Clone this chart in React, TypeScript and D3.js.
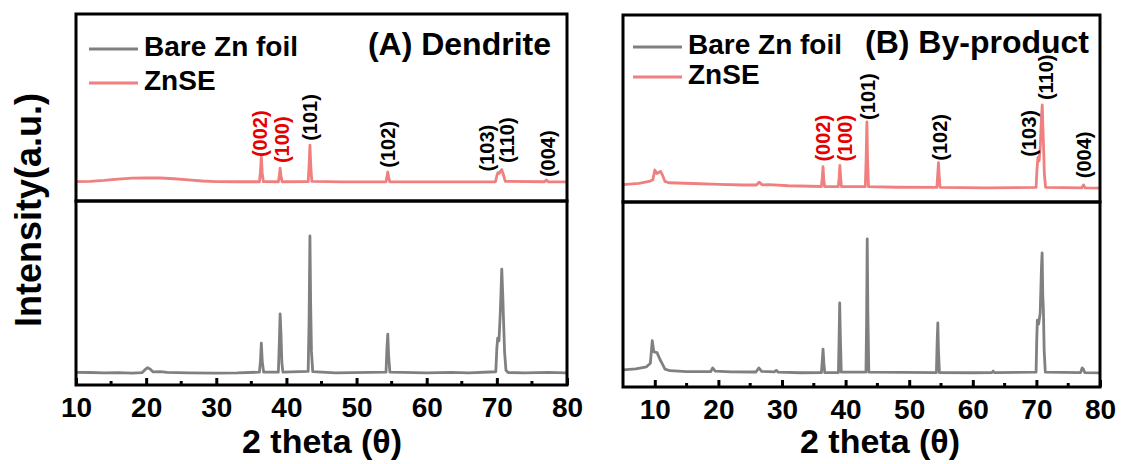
import * as d3 from "d3";
import { useEffect, useRef } from "react";

const W = 1137;
const H = 464;
const FONT = "'Liberation Sans', Arial, Helvetica, sans-serif";
const GRAY = "#808080";
const SALMON = "#F08080";
const RED = "#E60000";

const seriesNames = ["Bare Zn foil", "ZnSE"];
const majorTicks = [10, 20, 30, 40, 50, 60, 70, 80];
const minorTicks = [15, 25, 35, 45, 55, 65, 75];

// [2 theta, intensity (a.u.)]
const dendriteZnSE: [number, number][] = [
    [10, 10.4], [12, 10.5], [14, 11.0], [16, 11.7], [18, 12.2], [20, 12.4], [22, 12.3], [24, 11.9],
    [26, 11.3], [28, 10.7], [30, 10.4], [33, 10.3], [36.15, 10.3], [36.28, 15.0], [36.42, 23.5],
    [36.55, 15.0], [36.7, 10.4], [38.85, 10.3], [38.98, 13.5], [39.1, 17.6], [39.22, 13.5], [39.38, 10.3],
    [43.1, 10.4], [43.23, 19.0], [43.35, 29.9], [43.47, 19.0], [43.62, 10.5], [48, 10.2], [54.2, 10.3],
    [54.33, 13.0], [54.45, 15.5], [54.57, 13.0], [54.72, 10.3], [62, 10.2], [69.8, 10.3], [70.0, 13.5],
    [70.15, 15.2], [70.35, 14.8], [70.55, 16.2], [70.7, 16.8], [70.9, 14.5], [71.2, 10.5], [76.8, 10.3],
    [77.05, 11.3], [77.3, 10.3], [80, 10.2],
];

const dendriteBare: [number, number][] = [
    [10, 6.9], [12, 6.8], [14, 6.6], [16, 6.7], [18, 6.5], [19.4, 6.7], [19.8, 8.2], [20.2, 9.4],
    [20.6, 8.6], [21.0, 7.1], [22, 7.3], [23, 6.9], [26, 6.6], [30, 6.5], [33, 6.6], [36.15, 7.0],
    [36.3, 13.0], [36.42, 22.8], [36.55, 13.0], [36.75, 7.0], [38.85, 7.0], [38.98, 22.0], [39.1, 38.6],
    [39.22, 28.0], [39.35, 12.0], [39.5, 7.0], [43.1, 7.4], [43.23, 35.0], [43.35, 81.0], [43.45, 45.0],
    [43.57, 18.0], [43.75, 7.3], [47, 6.6], [54.2, 7.0], [54.33, 20.0], [54.45, 27.7], [54.57, 16.0],
    [54.75, 7.0], [60, 6.6], [63.5, 6.9], [66, 6.6], [69.85, 7.2], [70.0, 20.0], [70.12, 25.5],
    [70.3, 24.0], [70.5, 40.0], [70.7, 63.0], [70.85, 48.0], [70.95, 35.3], [71.1, 18.0], [71.3, 8.0],
    [71.6, 6.8], [74, 6.6], [77.2, 6.9], [80, 6.6],
];

const byproductZnSE: [number, number][] = [
    [5, 9.3], [7.5, 10.0], [9.3, 11.2], [9.7, 11.9], [10.0, 17.1], [10.3, 15.2], [10.6, 15.8],
    [10.9, 16.4], [11.2, 14.5], [11.6, 11.0], [12.2, 10.3], [16, 9.9], [20, 9.4], [24, 9.1], [26.0, 9.1],
    [26.4, 10.6], [26.9, 9.2], [28, 9.3], [31, 8.7], [36.2, 8.3], [36.33, 13.0], [36.45, 18.9],
    [36.57, 12.0], [36.7, 8.3], [38.85, 8.2], [38.98, 13.0], [39.1, 19.6], [39.22, 13.0], [39.35, 8.2],
    [43.1, 8.2], [43.22, 22.0], [43.35, 42.9], [43.46, 22.0], [43.6, 8.2], [48, 7.9], [54.35, 7.8],
    [54.47, 14.0], [54.6, 21.0], [54.72, 14.0], [54.85, 7.8], [62, 7.6], [69.95, 7.8], [70.1, 18.0],
    [70.25, 23.9], [70.42, 22.0], [70.62, 30.0], [70.8, 46.0], [70.92, 51.9], [71.02, 40.0], [71.12, 30.5],
    [71.25, 15.0], [71.45, 7.8], [77.15, 7.6], [77.4, 9.1], [77.65, 7.6], [80, 7.4],
];

const byproductBare: [number, number][] = [
    [5, 9.2], [7, 9.8], [8.7, 10.9], [9.3, 12.8], [9.6, 25.0], [9.85, 19.0], [10.35, 18.6], [10.8, 15.0],
    [11.1, 13.0], [11.6, 9.7], [12.4, 8.8], [15, 8.3], [18.8, 8.3], [19.1, 10.3], [19.5, 8.6], [22, 8.2],
    [25.9, 8.1], [26.35, 10.3], [26.8, 8.4], [28.8, 8.2], [29.1, 9.0], [29.4, 8.0], [33, 7.7],
    [36.2, 7.8], [36.33, 14.0], [36.45, 20.5], [36.58, 13.0], [36.72, 7.8], [38.87, 7.8], [38.97, 25.0],
    [39.07, 45.4], [39.17, 28.0], [39.32, 8.0], [43.2, 8.0], [43.3, 35.0], [43.4, 80.0], [43.5, 40.0],
    [43.65, 8.0], [54.28, 7.8], [54.4, 25.0], [54.5, 34.6], [54.6, 20.0], [54.75, 7.8], [60, 7.7],
    [63.0, 7.8], [63.2, 8.6], [63.4, 7.8], [69.95, 8.0], [70.05, 25.0], [70.15, 36.2], [70.35, 34.0],
    [70.6, 40.0], [70.8, 65.0], [70.9, 72.5], [71.0, 50.0], [71.1, 41.6], [71.22, 20.0], [71.4, 8.0],
    [76.95, 7.8], [77.2, 10.3], [77.4, 9.6], [77.6, 7.8], [80, 7.6],
];

// hkl labels: [text, 2 theta, intensity at the start of the text, red?]
const dendriteLabels: [string, number, number, boolean][] = [
    ["(002)", 36.23, 23.5, true],
    ["(100)", 39.37, 20.3, true],
    ["(101)", 43.36, 32.2, false],
    ["(102)", 54.48, 17.8, false],
    ["(103)", 68.6, 15.8, false],
    ["(110)", 71.45, 20.3, false],
    ["(004)", 77.3, 12.8, false],
];

const byproductLabels: [string, number, number, boolean][] = [
    ["(002)", 36.5, 21.6, true],
    ["(100)", 39.9, 21.6, true],
    ["(101)", 43.5, 43.9, false],
    ["(102)", 54.9, 22.1, false],
    ["(103)", 68.9, 24.2, false],
    ["(110)", 71.5, 54.5, false],
    ["(004)", 77.5, 12.7, false],
];

const panels = [
    {
        title: "(A) Dendrite", domain: [10, 80], left: 76, right: 567, top: 14, mid: 201, bottom: 385,
        znse: dendriteZnSE, bare: dendriteBare, labels: dendriteLabels,
        legendX: 89, legendY: [49, 83], titleX: 551, titleY: 55, xTitleX: 322,
    },
    {
        title: "(B) By-product", domain: [5, 80], left: 623, right: 1100, top: 15, mid: 202, bottom: 387,
        znse: byproductZnSE, bare: byproductBare, labels: byproductLabels,
        legendX: 633, legendY: [47, 77], titleX: 1089, titleY: 53, xTitleX: 880,
    },
];

const drawPanel = (svg, p) => {
    const x = d3.scaleLinear().domain(p.domain).range([p.left, p.right]);
    const yTop = d3.scaleLinear().domain([0, 100]).range([p.mid, p.top]);
    const yBot = d3.scaleLinear().domain([0, 100]).range([p.bottom, p.mid]);
    const g = svg.append("g");

    const line = (y) =>
        d3
            .line<[number, number]>()
            .x((d) => x(d[0]))
            .y((d) => y(d[1]));

    g.append("path")
        .attr("d", line(yBot)(p.bare))
        .attr("fill", "none")
        .attr("stroke", GRAY)
        .attr("stroke-width", 2.8)
        .attr("stroke-linejoin", "round");
    g.append("path")
        .attr("d", line(yTop)(p.znse))
        .attr("fill", "none")
        .attr("stroke", SALMON)
        .attr("stroke-width", 2.8)
        .attr("stroke-linejoin", "round");

    // frames
    g.append("rect")
        .attr("x", p.left).attr("y", p.top)
        .attr("width", p.right - p.left).attr("height", p.mid - p.top)
        .attr("fill", "none").attr("stroke", "#000").attr("stroke-width", 3);
    g.append("rect")
        .attr("x", p.left).attr("y", p.mid)
        .attr("width", p.right - p.left).attr("height", p.bottom - p.mid)
        .attr("fill", "none").attr("stroke", "#000").attr("stroke-width", 3);

    // ticks, pointing inward
    const axis = g.append("g").attr("transform", `translate(0,${p.bottom})`);
    axis.call(
        d3.axisBottom(x).tickValues(majorTicks).tickSize(-7).tickPadding(12).tickFormat(d3.format("d"))
    );
    axis.select(".domain").remove();
    axis.selectAll("line").attr("stroke", "#000").attr("stroke-width", 3);
    axis.selectAll("text")
        .attr("font-family", FONT).attr("font-size", 28).attr("font-weight", "bold").attr("fill", "#000");
    axis.append("g")
        .selectAll("line")
        .data(minorTicks)
        .join("line")
        .attr("x1", (d) => x(d)).attr("x2", (d) => x(d))
        .attr("y1", 0).attr("y2", -4)
        .attr("stroke", "#000").attr("stroke-width", 3);

    g.append("text")
        .attr("x", p.xTitleX).attr("y", 453)
        .attr("text-anchor", "middle")
        .attr("font-family", FONT).attr("font-size", 34).attr("font-weight", "bold")
        .text("2 theta (θ)");

    // hkl labels
    g.append("g")
        .selectAll("text")
        .data(p.labels)
        .join("text")
        .attr("transform", (d) => `translate(${x(d[1])},${yTop(d[2])}) rotate(-90)`)
        .attr("dy", "0.35em")
        .attr("font-family", FONT).attr("font-size", 20).attr("font-weight", "bold")
        .attr("fill", (d) => (d[3] ? RED : "#000"))
        .text((d) => d[0]);

    // legend
    const lg = g.append("g")
        .selectAll("g")
        .data(seriesNames)
        .join("g")
        .attr("transform", (d, i) => `translate(${p.legendX},${p.legendY[i]})`);
    lg.append("line")
        .attr("x1", 0).attr("x2", 49)
        .attr("stroke", (d, i) => (i === 0 ? GRAY : SALMON))
        .attr("stroke-width", 3);
    lg.append("text")
        .attr("x", 55).attr("y", 7)
        .attr("font-family", FONT).attr("font-size", 28).attr("font-weight", "bold")
        .text((d) => d);

    g.append("text")
        .attr("x", p.titleX).attr("y", p.titleY)
        .attr("text-anchor", "end")
        .attr("font-family", FONT).attr("font-size", 32).attr("font-weight", "bold")
        .text(p.title);
};

const chart = (svgRef) => {
    const svg = d3.select(svgRef);
    svg.selectAll("*").remove();
    panels.forEach((p) => drawPanel(svg, p));
    svg.append("text")
        .attr("transform", "translate(41,210) rotate(-90)")
        .attr("text-anchor", "middle")
        .attr("font-family", FONT).attr("font-size", 36).attr("font-weight", "bold")
        .text("Intensity(a.u.)");
};

export default function App() {
    const svgRef = useRef(null);
    useEffect(() => {
        chart(svgRef.current);
    }, []);
    return (
        <svg
            ref={svgRef}
            width={W}
            height={H}
            style={{ position: "absolute", left: 0, top: 0, background: "#fff" }}
        ></svg>
    );
}
